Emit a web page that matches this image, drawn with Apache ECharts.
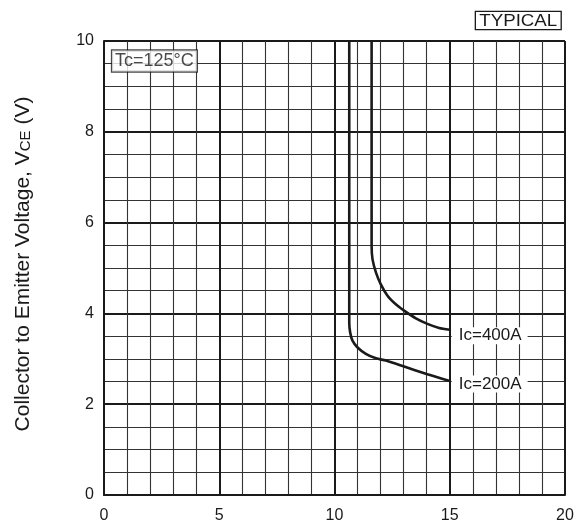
<!DOCTYPE html>
<html>
<head>
<meta charset="utf-8">
<script src="https://cdn.jsdelivr.net/npm/echarts@6/dist/echarts.min.js"></script>
<style>
html,body{margin:0;padding:0;background:#fff;}
#chart{width:579px;height:524px;}
</style>
</head>
<body>
<div id="chart"></div>
<script>
const xTicks = [0, 5, 10, 15, 20];
const yTicks = [0, 2, 4, 6, 8, 10];
const seriesNames = ['Ic=200A', 'Ic=400A'];
const x200 = [10.64, 10.64, 10.68, 10.78, 11.0, 11.36, 11.80, 12.23, 13.02, 14.03, 15.0];
const y200 = [10, 3.80, 3.58, 3.40, 3.25, 3.11, 3.01, 2.96, 2.83, 2.66, 2.51];
const x400 = [11.61, 11.61, 11.65, 11.80, 12.01, 12.30, 12.66, 13.02, 13.53, 14.03, 14.54, 15.0];
const y400 = [10, 5.48, 5.19, 4.90, 4.64, 4.39, 4.20, 4.06, 3.89, 3.77, 3.68, 3.64];
const annotation = 'Tc=125°C';
const badge = 'TYPICAL';

const FONT = 'Liberation Sans, Arial, sans-serif';
const INK = '#1a1a1a';
const chart = echarts.init(document.getElementById('chart'));

function pairs(xs, ys) { return xs.map((x, i) => [x, ys[i]]); }

function curve(name, xs, ys, offY) {
  return {
    name: name,
    type: 'line',
    data: pairs(xs, ys),
    smooth: 0.25,
    showSymbol: false,
    symbol: 'none',
    lineStyle: { color: INK, width: 2.6 },
    z: 5,
    endLabel: {
      show: true,
      formatter: name,
      color: INK,
      fontFamily: FONT,
      fontSize: 17,
      lineHeight: 17,
      backgroundColor: '#fff',
      padding: [0, 6, 0, 7],
      distance: 2,
      offset: [0, offY]
    },
    animation: false
  };
}

chart.setOption({
  animation: false,
  grid: { left: 104, right: 14, top: 41, bottom: 27.5, containLabel: false },
  xAxis: {
    type: 'value', min: 0, max: 20, interval: 5,
    axisLine: { show: true, lineStyle: { color: INK, width: 2 } },
    axisTick: { show: false },
    axisLabel: { color: INK, fontSize: 16, fontFamily: FONT, margin: 13,
      formatter: v => xTicks.includes(v) ? String(v) : '' },
    splitLine: { show: true, lineStyle: { color: INK, width: 2 } },
    minorTick: { show: false, splitNumber: 5 },
    minorSplitLine: { show: true, lineStyle: { color: '#333', width: 1.1 } }
  },
  yAxis: {
    type: 'value', min: 0, max: 10, interval: 2,
    name: 'Collector to Emitter Voltage, V{s|CE} (V)',
    nameLocation: 'middle',
    nameGap: 70,
    nameTextStyle: {
      color: INK, fontSize: 21, fontFamily: FONT,
      padding: [0, 0, 0, 8],
      rich: { s: { fontSize: 15, fontFamily: FONT, color: INK, padding: [5, 0, 0, 0] } }
    },
    axisLine: { show: true, lineStyle: { color: INK, width: 2 } },
    axisTick: { show: false },
    axisLabel: { color: INK, fontSize: 16, fontFamily: FONT, margin: 10,
      formatter: v => yTicks.includes(v) ? String(v) : '' },
    splitLine: { show: true, lineStyle: { color: INK, width: 2 } },
    minorTick: { show: false, splitNumber: 4 },
    minorSplitLine: { show: true, lineStyle: { color: '#333', width: 1.1 } }
  },
  series: [
    curve(seriesNames[0], x200, y200, 3),
    curve(seriesNames[1], x400, y400, 6),
    {
      type: 'scatter', data: [[0.35, 9.56]], symbolSize: 0, silent: true,
      label: { show: true, position: 'right', distance: 0, formatter: annotation,
        color: INK, fontSize: 18, fontFamily: FONT, lineHeight: 18,
        backgroundColor: '#fff', borderColor: INK, borderWidth: 1.2,
        padding: [2, 3, 1, 3] },
      z: 6
    }
  ],
  graphic: [
    {
      type: 'text', x: 476, y: 12, z: 10, scaleX: 1.1,
      style: { text: badge, fontSize: 17, lineHeight: 16, fontFamily: FONT, fill: INK,
        backgroundColor: '#fff', borderColor: INK, borderWidth: 1.2, padding: [1, 3, 0, 3] }
    }
  ]
});
</script>
</body>
</html>
